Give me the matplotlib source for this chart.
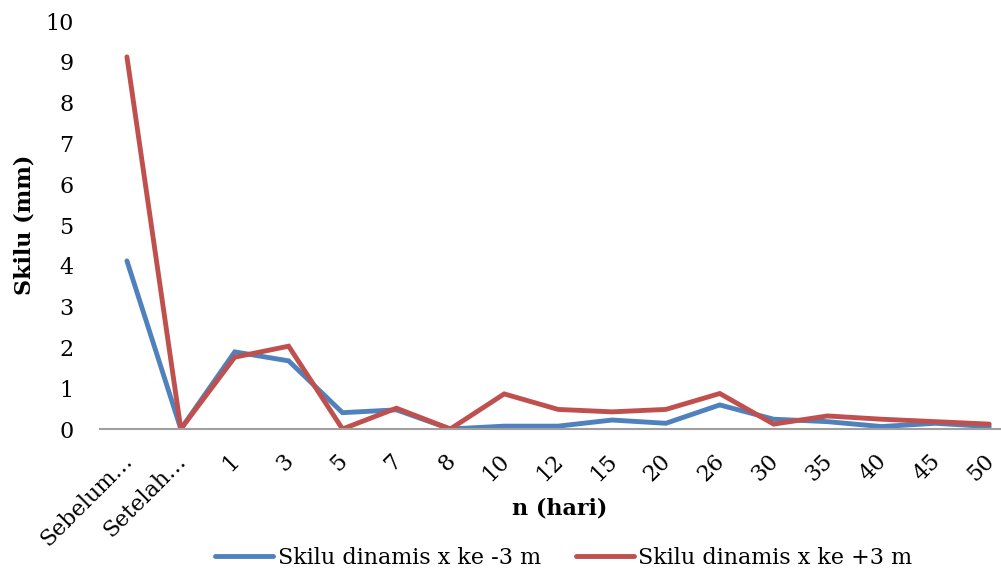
import matplotlib.pyplot as plt
import matplotlib.transforms as mtransforms
import numpy as np

plt.rcParams['font.family'] = ['DejaVu Serif']

categories = ['Sebelum…', 'Setelah…', '1', '3', '5', '7', '8', '10', '12', '15',
              '20', '26', '30', '35', '40', '45', '50']
skilu_min3 = [4.12, 0.0, 1.89, 1.67, 0.40, 0.47, 0.0, 0.07, 0.07, 0.22,
              0.14, 0.59, 0.24, 0.18, 0.06, 0.14, 0.06]
skilu_plus3 = [9.12, 0.0, 1.76, 2.03, 0.0, 0.51, 0.0, 0.86, 0.48, 0.42,
               0.48, 0.87, 0.12, 0.32, 0.24, 0.18, 0.12]

fig = plt.figure(figsize=(10.01, 5.72), dpi=100)
ax = fig.add_axes([100 / 1001, 1 - 429 / 572, 900 / 1001, 408 / 572])

x = np.arange(len(categories))
ax.plot(x, skilu_min3, color='#4F81BD', linewidth=3.5, solid_capstyle='round',
        solid_joinstyle='miter', label='Skilu dinamis x ke -3 m')
ax.plot(x, skilu_plus3, color='#C0504D', linewidth=3.5, solid_capstyle='round',
        solid_joinstyle='miter', label='Skilu dinamis x ke +3 m')

ax.set_xlim(-0.5, 16.2)
ax.set_ylim(0, 10)
ax.set_yticks(range(0, 11))
ax.set_xticks(x)
ax.set_xticklabels(categories, rotation=45, ha='right', va='top',
                   rotation_mode='anchor')
ax.tick_params(axis='both', length=0, labelsize=16)
ax.tick_params(axis='y', pad=19)
ax.tick_params(axis='x', pad=15)

# nudge the rotated labels so they sit under their points like the original
offset = mtransforms.ScaledTranslation(-6 / 100, 0, fig.dpi_scale_trans)
for lbl in ax.get_xticklabels():
    lbl.set_transform(lbl.get_transform() + offset)

for s in ['top', 'right', 'left']:
    ax.spines[s].set_visible(False)
ax.spines['bottom'].set_color('#A0A0A0')
ax.spines['bottom'].set_linewidth(1.5)

ax.set_ylabel('Skilu (mm)', fontsize=16, fontweight='bold')
ax.yaxis.set_label_coords(-0.072, 0.5)
ax.set_xlabel('n (hari)', fontsize=16, fontweight='bold')
ax.xaxis.set_label_coords((560 - 100) / 900, -(69 / 408))

fig.legend(*ax.get_legend_handles_labels(), loc='center',
           bbox_to_anchor=(564 / 1001, 1 - 558 / 572), ncol=2, frameon=False,
           fontsize=16, handlelength=2.6, columnspacing=1.6, handletextpad=0.2)

fig.savefig('out.png', dpi=100)
